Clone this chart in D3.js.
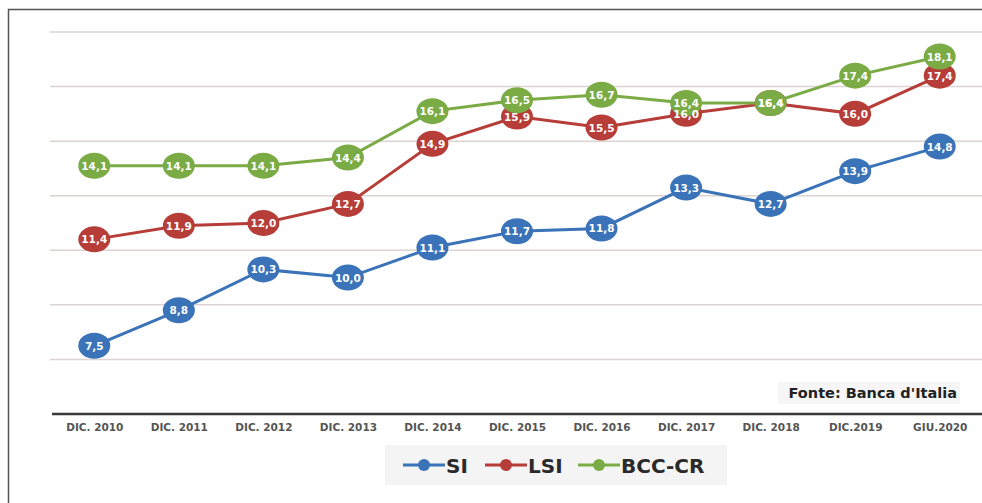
<!DOCTYPE html>
<html>
<head>
<meta charset="utf-8">
<script src="https://cdn.jsdelivr.net/npm/d3@7"></script>
<style>
  body { margin: 0; background: #fff; }
  svg { display: block; }
</style>
</head>
<body>
<script>
var width = 982,
    height = 503;

// data
var categories = ["DIC. 2010", "DIC. 2011", "DIC. 2012", "DIC. 2013", "DIC. 2014", "DIC. 2015",
                  "DIC. 2016", "DIC. 2017", "DIC. 2018", "DIC.2019", "GIU.2020"];
var si     = [7.5, 8.8, 10.3, 10.0, 11.1, 11.7, 11.8, 13.3, 12.7, 13.9, 14.8];
var lsi    = [11.4, 11.9, 12.0, 12.7, 14.9, 15.9, 15.5, 16.0, 16.4, 16.0, 17.4];
var bccCr  = [14.1, 14.1, 14.1, 14.4, 16.1, 16.5, 16.7, 16.4, 16.4, 17.4, 18.1];
var seriesNames = ["SI", "LSI", "BCC-CR"];
var gridValues = [7, 9, 11, 13, 15, 17, 19];

var colors = { "SI": "#3a73b8", "LSI": "#b63d38", "BCC-CR": "#7aab45" };

var series = [
  { name: "SI", values: si },
  { name: "LSI", values: lsi },
  { name: "BCC-CR", values: bccCr }
];

var svg = d3.select("body").append("svg")
    .attr("width", width)
    .attr("height", height);

// frame (left + top edges only, cut by the picture)
svg.append("path")
    .attr("d", "M8.5," + height + "V9.5H" + width)
    .attr("fill", "none")
    .attr("stroke", "#555")
    .attr("stroke-width", 1.5);

var x = d3.scalePoint()
    .domain(categories)
    .range([52, 982])
    .padding(0.5);

var y = d3.scaleLinear()
    .domain([5, 19])
    .range([414, 32]);

// gridlines
svg.append("g").selectAll("line")
  .data(gridValues)
  .join("line")
    .attr("x1", 50)
    .attr("x2", width)
    .attr("y1", function(d) { return y(d); })
    .attr("y2", function(d) { return y(d); })
    .attr("stroke", "#dcd3d2")
    .attr("stroke-width", 1.5);

// x axis
var xAxis = svg.append("g")
    .attr("transform", "translate(0," + y(5) + ")")
    .call(d3.axisBottom(x).tickSize(0).tickPadding(10));
xAxis.select(".domain")
    .attr("d", "M52,0H" + width)
    .attr("stroke", "#3a3a3a")
    .attr("stroke-width", 2.5);
xAxis.selectAll("text")
    .attr("font-family", "DejaVu Sans, sans-serif")
    .attr("font-weight", "bold")
    .attr("font-size", 10.5)
    .attr("fill", "#555");

// source note
svg.append("rect")
    .attr("x", 778).attr("y", 382)
    .attr("width", 182).attr("height", 22)
    .attr("fill", "#f6f6f6");
svg.append("text")
    .attr("x", 957)
    .attr("y", 398)
    .attr("text-anchor", "end")
    .attr("font-family", "DejaVu Sans, sans-serif")
    .attr("font-weight", "bold")
    .attr("font-size", 14.5)
    .attr("fill", "#222")
    .text("Fonte: Banca d'Italia");

var line = d3.line()
    .x(function(d, i) { return x(categories[i]); })
    .y(function(d) { return y(d); });

// lines
svg.append("g").selectAll("path")
  .data(series)
  .join("path")
    .attr("d", function(d) { return line(d.values); })
    .attr("fill", "none")
    .attr("stroke", function(d) { return colors[d.name]; })
    .attr("stroke-width", 3);

// markers
var markers = svg.append("g").selectAll("g")
  .data(series)
  .join("g")
    .attr("fill", function(d) { return colors[d.name]; });
markers.selectAll("ellipse")
  .data(function(d) { return d.values; })
  .join("ellipse")
    .attr("cx", function(d, i) { return x(categories[i]); })
    .attr("cy", function(d) { return y(d); })
    .attr("rx", 16)
    .attr("ry", 13);

// data labels
var labels = svg.append("g").selectAll("g")
  .data(series)
  .join("g");
labels.selectAll("text")
  .data(function(d) { return d.values; })
  .join("text")
    .attr("x", function(d, i) { return x(categories[i]); })
    .attr("y", function(d) { return y(d) + 4; })
    .attr("text-anchor", "middle")
    .attr("font-family", "DejaVu Sans, sans-serif")
    .attr("font-weight", "bold")
    .attr("font-size", 10.5)
    .attr("fill", "#fff")
    .text(function(d) { return d3.format(".1f")(d).replace(".", ","); });

// legend
var legend = svg.append("g");
legend.append("rect")
    .attr("x", 385).attr("y", 445)
    .attr("width", 342).attr("height", 40)
    .attr("fill", "#f4f4f4");

var legendX = d3.scaleOrdinal()
    .domain(seriesNames)
    .range([403, 485, 578]);

var item = legend.selectAll("g")
  .data(seriesNames)
  .join("g")
    .attr("transform", function(d) { return "translate(" + legendX(d) + ",465)"; });
item.append("line")
    .attr("x1", 0).attr("x2", 42)
    .attr("stroke", function(d) { return colors[d]; })
    .attr("stroke-width", 3);
item.append("circle")
    .attr("cx", 21)
    .attr("r", 6)
    .attr("fill", function(d) { return colors[d]; });
item.append("text")
    .attr("x", 43)
    .attr("y", 7.5)
    .attr("font-family", "DejaVu Sans, sans-serif")
    .attr("font-weight", "bold")
    .attr("font-size", 20)
    .attr("fill", "#2a2a2a")
    .text(function(d) { return d; });
</script>
</body>
</html>
